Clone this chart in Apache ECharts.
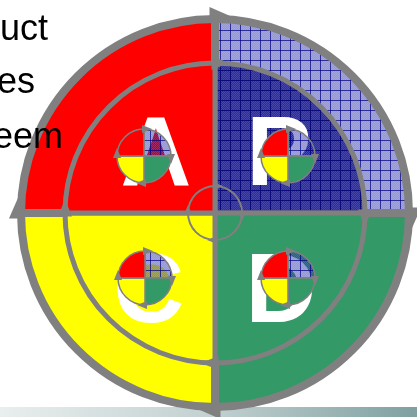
<!DOCTYPE html>
<html>
<head>
<meta charset="utf-8">
<script src="https://cdn.jsdelivr.net/npm/echarts@6/dist/echarts.min.js"></script>
<style>
  html, body { margin: 0; padding: 0; background: #fff; }
  #main { width: 417px; height: 417px; }
</style>
</head>
<body>
<div id="main"></div>
<script>
// quadrants, clockwise from the top (P-D-C-A cycle)
var quadrantNames = ['P', 'D', 'C', 'A'];
var quadrantShares = [25, 25, 25, 25];
var bigLetters = ['A', 'P', 'C', 'D'];
var sideText = ['uct', 'es', 'eem'];

// patroon voor het blauwe vlak
function makePattern(fill, line, step) {
  var c = document.createElement('canvas');
  c.width = step; c.height = step;
  var g = c.getContext('2d');
  g.fillStyle = fill;
  g.fillRect(0, 0, step, step);
  g.fillStyle = 'rgba(255,255,255,0.12)';
  for (var i = 0; i < step; i++) {
    for (var j = (i % 2); j < step; j += 2) g.fillRect(i, j, 1, 1);
  }
  g.fillStyle = line;
  g.fillRect(0, 0, step, 1);
  g.fillRect(0, 0, 1, step);
  return c;
}
var lightBlue = { image: makePattern('rgba(25,30,165,0.46)', 'rgba(0,0,130,0.7)', 10), repeat: 'repeat' };
var darkBlue = { image: makePattern('#2d2d9e', '#0a0a78', 10), repeat: 'repeat' };

var gray = '#808080';
var cx = 215, cy = 213;

function pieData(colors) {
  return quadrantNames.map(function (n, i) {
    return { name: n, value: quadrantShares[i], itemStyle: { color: colors[i] } };
  });
}

function pie(center, radius, colors, border, z) {
  return {
    type: 'pie',
    center: center,
    radius: radius,
    startAngle: 90,
    clockwise: true,
    silent: true,
    z: z,
    label: { show: false },
    labelLine: { show: false },
    emphasis: { disabled: true },
    itemStyle: { borderColor: gray, borderWidth: border },
    data: pieData(colors)
  };
}

// pijlpunt met de klok mee op een cirkel
function arrow(x0, y0, r, deg, len, half, outerOnly) {
  var t = deg * Math.PI / 180;
  var px = x0 + r * Math.sin(t), py = y0 - r * Math.cos(t);
  var dx = Math.cos(t), dy = Math.sin(t);
  var nx = Math.sin(t), ny = -Math.cos(t);
  var back = len * 0.25;
  var pts = [
    [px + dx * len, py + dy * len],
    [px - dx * back + nx * half, py - dy * back + ny * half],
    outerOnly ? [px - dx * back, py - dy * back] : [px - dx * back - nx * half, py - dy * back - ny * half]
  ];
  return { type: 'polygon', z: 30, silent: true, shape: { points: pts }, style: { fill: gray } };
}

var smallCenters = [[144, 156], [288, 156], [145, 278], [288, 278]];
var smallColors = [lightBlue, '#339966', '#ffff00', '#ff0000'];

var series = [
  pie([cx, cy], [0, 194], [lightBlue, '#339966', '#ffff00', '#ff0000'], 8, 2),
  pie([cx, cy], [0, 150], [darkBlue, '#339966', '#ffff00', '#ff0000'], 5, 3)
];
smallCenters.forEach(function (c) {
  series.push(pie(c, [0, 27], smallColors, 1.5, 10));
});
// middelste cirkel: alleen de rand
series.push({
  type: 'pie', center: [cx, cy], radius: [26, 28], silent: true, z: 10,
  label: { show: false }, labelLine: { show: false }, emphasis: { disabled: true },
  data: [{ name: 'ring', value: 1, itemStyle: { color: gray } }]
});

var graphics = [];
// balk onderaan
graphics.push({
  type: 'rect', z: 0, silent: true,
  shape: { x: 0, y: 407, width: 417, height: 10 },
  style: {
    fill: new echarts.graphic.LinearGradient(0, 0, 1, 0, [
      { offset: 0, color: '#e9eeee' },
      { offset: 0.5, color: '#c3d1d1' },
      { offset: 1, color: '#7fa0a0' }
    ])
  }
});
// grote letters
var letterPos = [[156, 158], [279, 158], [149, 295], [281, 295]];
bigLetters.forEach(function (l, i) {
  graphics.push({
    type: 'text', z: 6, silent: true,
    x: letterPos[i][0], y: letterPos[i][1],
    style: {
      text: l, fill: '#ffffff',
      font: 'bold 98px "Liberation Sans", Arial, sans-serif',
      align: 'center', verticalAlign: 'middle'
    }
  });
});
// tekst links (afgesneden)
var textRight = [48, 35, 63];
var textMid = [30, 83, 138];
sideText.forEach(function (s, i) {
  graphics.push({
    type: 'text', z: 40, silent: true,
    x: textRight[i], y: textMid[i],
    style: {
      text: s, fill: '#000000',
      font: '36px "Liberation Sans", Arial, sans-serif',
      align: 'right', verticalAlign: 'middle'
    }
  });
});
// pijlen
[0, 90, 180, 270].forEach(function (d) {
  graphics.push(arrow(cx, cy, 194, d, 22, 12, true));
  graphics.push(arrow(cx, cy, 150, d, 14, 7, false));
  graphics.push(arrow(cx, cy, 27, d, 8, 4, false));
  smallCenters.forEach(function (c) {
    graphics.push(arrow(c[0], c[1], 27, d, 8, 4, false));
  });
});

var chart = echarts.init(document.getElementById('main'), null, { renderer: 'canvas' });
chart.setOption({
  animation: false,
  backgroundColor: '#ffffff',
  graphic: { elements: graphics },
  series: series
});
</script>
</body>
</html>
